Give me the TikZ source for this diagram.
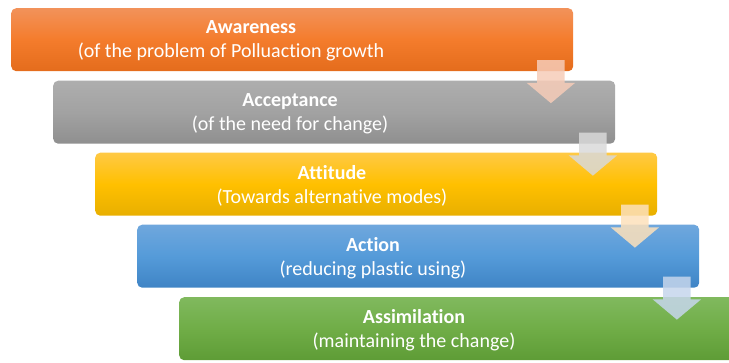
\documentclass[tikz,border=0pt]{standalone}
\usepackage{fontspec}
\setmainfont[Ligatures=NoCommon]{Carlito}
\usetikzlibrary{shapes.arrows, positioning}
\definecolor{orangeA}{HTML}{F2925A}
\definecolor{orangeB}{HTML}{F47C2C}
\definecolor{orangeC}{HTML}{E46C1C}
\definecolor{grayA}{HTML}{AEAEAE}
\definecolor{grayB}{HTML}{A2A2A2}
\definecolor{grayC}{HTML}{8F8F8F}
\definecolor{yellowA}{HTML}{FFC945}
\definecolor{yellowB}{HTML}{FFC000}
\definecolor{yellowC}{HTML}{E8AF00}
\definecolor{blueA}{HTML}{6FA7DD}
\definecolor{blueB}{HTML}{559BD9}
\definecolor{blueC}{HTML}{3F84C5}
\definecolor{greenA}{HTML}{80B95E}
\definecolor{greenB}{HTML}{70AD47}
\definecolor{greenC}{HTML}{5E9C36}
\definecolor{arrowA}{HTML}{F6CCB8}
\definecolor{arrowB}{HTML}{D9D9D9}
\definecolor{arrowC}{HTML}{FDE1BB}
\definecolor{arrowD}{HTML}{C6D6EC}
\tikzset{
    stage/.style={rectangle, rounded corners=5pt, minimum width=562pt, minimum height=63pt, anchor=north west, inner sep=0pt},
    stagetext/.style={text=white, align=center, font=\fontsize{20}{24}\selectfont},
    orangefill/.style={top color=orangeA, bottom color=orangeC, middle color=orangeB},
    grayfill/.style={top color=grayA, bottom color=grayC, middle color=grayB},
    yellowfill/.style={top color=yellowA, bottom color=yellowC, middle color=yellowB},
    bluefill/.style={top color=blueA, bottom color=blueC, middle color=blueB},
    greenfill/.style={top color=greenA, bottom color=greenC, middle color=greenB},
    flow/.style={single arrow, shape border rotate=270, minimum height=43pt, inner sep=13.5pt, single arrow head extend=10.5pt, single arrow tip angle=100, draw=none, fill opacity=0.85}
}
\begin{document}
\begin{tikzpicture}[x=1pt, y=-1pt]
    \useasboundingbox (0,0) rectangle (729,362);
    % stages
    \node[stage, orangefill] (aware) at (11,8) {};
    \node[stage, grayfill] (accept) at (53,80.5) {};
    \node[stage, yellowfill] (attit) at (95,152.5) {};
    \node[stage, bluefill] (act) at (137,224.5) {};
    \node[stage, greenfill] (assim) at (179,297) {};
    % texts
    \node[stagetext] (awaretxt) at ([xshift=230pt, yshift=-1.5pt]aware.west) {\hspace*{20pt}\textbf{Awareness}\\(of the problem of Polluaction growth\hspace*{20pt}};
    \node[stagetext] (accepttxt) at ([xshift=237pt, yshift=-1.5pt]accept.west) {\textbf{Acceptance}\\(of the need for change)};
    \node[stagetext] (attittxt) at ([xshift=237pt, yshift=-1.5pt]attit.west) {\textbf{Attitude}\\(Towards alternative modes)};
    \node[stagetext] (acttxt) at ([xshift=236pt, yshift=-1.5pt]act.west) {\textbf{Action}\\(reducing plastic using)};
    \node[stagetext] (assimtxt) at ([xshift=235pt, yshift=-1.5pt]assim.west) {\textbf{Assimilation}\\(maintaining the change)};
    % arrows
    \node[flow, fill=arrowA] (f1) at ([xshift=-22.5pt, yshift=-4.5pt]aware.south east) {};
    \node[flow, fill=arrowB] (f2) at ([xshift=-22.5pt, yshift=-4.5pt]accept.south east) {};
    \node[flow, fill=arrowC] (f3) at ([xshift=-22.5pt, yshift=-4.5pt]attit.south east) {};
    \node[flow, fill=arrowD] (f4) at ([xshift=-22.5pt, yshift=-4.5pt]act.south east) {};
\end{tikzpicture}
\end{document}
